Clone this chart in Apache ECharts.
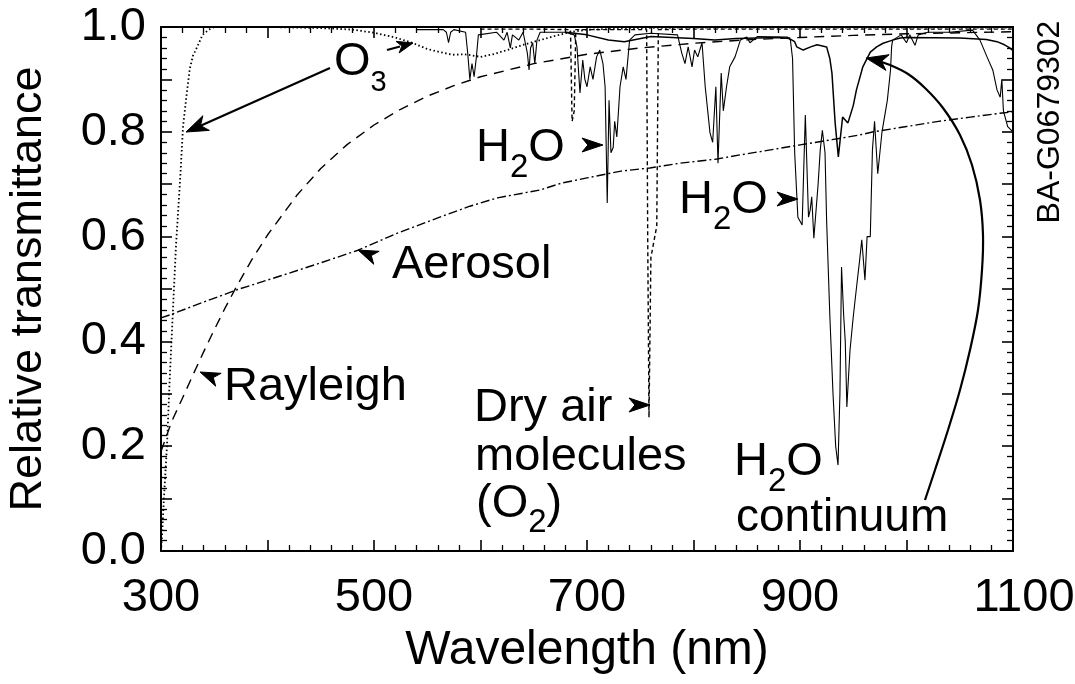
<!DOCTYPE html>
<html>
<head>
<meta charset="utf-8">
<script src="https://cdn.jsdelivr.net/npm/echarts@6/dist/echarts.min.js"></script>
<style>
  html, body { margin: 0; padding: 0; background: #fff; }
  #chart { width: 1075px; height: 684px; }
</style>
</head>
<body>
<div id="chart"></div>
<script>
// Relative transmittance of the atmosphere by component, 300–1100 nm.

// Ozone (UV cutoff + Chappuis band)
const o3Wavelength = [300, 301, 303, 305.6, 308, 311, 314, 318, 320.7, 324, 327, 330, 334, 339, 345, 350,
  400, 450, 480, 500, 520, 537, 550, 562, 574, 585, 600, 612, 625, 640, 656, 670, 684, 700, 750, 800, 900, 1000, 1100];
const o3Transmittance = [0.0, 0.03, 0.11, 0.2, 0.32, 0.45, 0.58, 0.71, 0.81, 0.87, 0.92, 0.945, 0.962, 0.985, 0.995, 1.0,
  1.0, 0.998, 0.995, 0.989, 0.98, 0.969, 0.958, 0.952, 0.947, 0.948, 0.943, 0.948, 0.956, 0.966, 0.975, 0.983, 0.99, 0.995, 0.998, 0.999, 0.999, 0.999, 0.999];

// Rayleigh scattering
const rayleighWavelength = [300, 310, 320, 330, 340, 350, 360, 371, 385, 400, 428, 450, 475, 500, 525, 550, 575, 600,
  650, 700, 750, 800, 850, 900, 950, 1000, 1050, 1100];
const rayleighTransmittance = [0.19, 0.247, 0.291, 0.336, 0.38, 0.422, 0.463, 0.505, 0.555, 0.603, 0.68, 0.73, 0.776, 0.813, 0.843, 0.868, 0.888, 0.905,
  0.93, 0.948, 0.96, 0.969, 0.9755, 0.98, 0.984, 0.987, 0.989, 0.991];

// Aerosol extinction
const aerosolWavelength = [300, 309, 340, 372, 420, 450, 485, 520, 550, 563, 590, 616, 656, 676, 700, 732, 759, 787,
  822, 844, 862, 900, 930, 956, 969, 1000, 1030, 1060, 1090, 1100];
const aerosolTransmittance = [0.445, 0.451, 0.475, 0.499, 0.53, 0.55, 0.574, 0.605, 0.628, 0.638, 0.658, 0.674, 0.689, 0.702, 0.712, 0.725, 0.731, 0.74,
  0.748, 0.756, 0.762, 0.775, 0.785, 0.794, 0.80, 0.81, 0.82, 0.828, 0.836, 0.838];

// Dry air molecules (O2 B and A bands)
const o2Wavelength = [600, 650, 684.5, 686, 688, 689.5, 756, 757, 758.2, 760, 765.5, 767, 800, 900, 1000, 1100];
const o2Transmittance = [0.996, 0.996, 0.995, 0.82, 0.84, 0.995, 0.995, 0.6, 0.255, 0.56, 0.62, 0.995, 0.996, 0.996, 0.996, 0.996];

// Water vapour absorption lines
const h2oWavelength = [540, 565, 568, 570, 572, 575, 586, 588, 590, 592, 594, 596, 598, 615, 622, 625, 628, 630, 636, 640,
  644, 645.6, 647, 649, 651, 653, 656, 680, 688, 690.6, 693.4, 696, 698, 700, 703, 705.6, 709, 712, 715, 717, 719,
  720.7, 722.5, 724.6, 726, 728, 731, 734, 736.6, 740, 745, 760, 785, 789, 792, 795, 798.6, 801, 804, 808, 811,
  815.5, 818, 821, 823, 826, 828, 831, 834, 839, 844, 850, 853, 856, 860, 888, 891, 893, 895, 898, 902, 905, 908,
  909.5, 911, 913, 917, 919, 921, 923.5, 925, 928, 931, 933.5, 935.7, 937.5, 939, 941, 942.5, 944, 945.5, 947, 950,
  953.5, 956, 958, 961, 963, 966, 968, 970, 973, 977, 982, 985, 986, 987, 995, 1000, 1003, 1008, 1011, 1020, 1040,
  1062, 1069, 1075.6, 1081, 1085, 1088, 1089.5, 1091, 1095, 1100];
const h2oTransmittance = [0.995, 0.995, 0.99, 0.97, 0.99, 0.995, 0.99, 0.95, 0.90, 0.93, 0.905, 0.94, 0.985, 0.99, 0.975, 0.99, 0.96, 0.985, 0.975, 0.99,
  0.95, 0.918, 0.96, 0.97, 0.93, 0.975, 0.99, 0.99, 0.985, 0.962, 0.874, 0.937, 0.90, 0.886, 0.924, 0.9, 0.943, 0.956, 0.93, 0.886, 0.664,
  0.86, 0.76, 0.77, 0.82, 0.79, 0.886, 0.924, 0.9, 0.975, 0.985, 0.988, 0.985, 0.95, 0.93, 0.962, 0.924, 0.956, 0.943, 0.97, 0.886,
  0.798, 0.78, 0.886, 0.74, 0.912, 0.84, 0.886, 0.924, 0.943, 0.975, 0.981, 0.97, 0.975, 0.982, 0.981, 0.975, 0.94, 0.76, 0.637, 0.622, 0.832, 0.637,
  0.65, 0.676, 0.597, 0.70, 0.765, 0.803, 0.76, 0.63, 0.45, 0.30, 0.2, 0.164, 0.3, 0.542, 0.45, 0.4, 0.275, 0.33, 0.384, 0.447,
  0.511, 0.555, 0.594, 0.517, 0.60, 0.60, 0.765, 0.82, 0.72, 0.80, 0.86, 0.918, 0.962, 0.975, 0.985, 0.97, 0.985, 0.965, 0.985, 0.99, 0.99,
  0.994, 0.975, 0.943, 0.918, 0.88, 0.866, 0.9, 0.84, 0.81, 0.80];

// Water vapour continuum
const continuumWavelength = [680, 700, 720, 735, 760, 800, 820, 840, 880, 890, 895, 897, 903, 910, 916, 925, 928, 930, 933, 936,
  938, 940, 945, 950, 953, 959, 966, 972, 978, 987, 994, 1000, 1050, 1075, 1085, 1092, 1097, 1100];
const continuumTransmittance = [0.99, 0.985, 0.975, 0.972, 0.982, 0.978, 0.975, 0.978, 0.98, 0.978, 0.972, 0.962, 0.956, 0.962, 0.966, 0.962, 0.94, 0.912, 0.817, 0.752,
  0.79, 0.828, 0.817, 0.85, 0.88, 0.924, 0.952, 0.962, 0.969, 0.975, 0.979, 0.98, 0.979, 0.976, 0.972, 0.966, 0.96, 0.955];

// Axis labels
const xTickLabels = [300, 500, 700, 900, 1100];
const yTickLabels = ['0.0', '0.2', '0.4', '0.6', '0.8', '1.0'];

const FONT = '"Liberation Sans", Arial, Helvetica, sans-serif';
const INK = '#000';

const pairs = (xs, ys) => xs.map((x, i) => [x, ys[i]]);

const measureCtx = document.createElement('canvas').getContext('2d');
function textWidth(str, size) {
  measureCtx.font = size + 'px ' + FONT;
  return measureCtx.measureText(str).width;
}

// Text pieces sharing a baseline; subscripts carry their own size and drop.
function richLabel(x, baseline, parts) {
  const out = [];
  let cx = x;
  parts.forEach(([t, size, drop]) => {
    const b = baseline + (drop || 0);
    out.push({
      type: 'text', x: cx, y: b - 0.31 * size, silent: true,
      style: { text: t, font: size + 'px ' + FONT, fill: INK,
               align: 'left', verticalAlign: 'middle', textAlign: 'left', textVerticalAlign: 'middle' }
    });
    cx += textWidth(t, size);
  });
  return out;
}

// Barbed arrowhead with its tip at (tx, ty), pointing away from (fx, fy).
function arrowHead(tx, ty, fx, fy, len, halfW) {
  const a = Math.atan2(ty - fy, tx - fx);
  const ux = Math.cos(a), uy = Math.sin(a);
  const px = -uy, py = ux;
  const bx = tx - ux * len, by = ty - uy * len;
  const nx = tx - ux * len * 0.72, ny = ty - uy * len * 0.72;
  return {
    type: 'polygon', silent: true,
    shape: { points: [[tx, ty], [bx + px * halfW, by + py * halfW], [nx, ny], [bx - px * halfW, by - py * halfW]] },
    style: { fill: INK, stroke: INK, lineWidth: 1 }
  };
}

function shaft(points, width, smooth) {
  return {
    type: 'polyline', silent: true,
    shape: { points: points, smooth: smooth || 0 },
    style: { stroke: INK, lineWidth: width, fill: null }
  };
}

const continuumCurve = [[925, 500], [935, 470], [948, 430], [960, 390], [970, 350], [978, 310], [982, 270],
  [983, 235], [980, 200], [972, 165], [960, 135], [943, 108], [925, 88], [908, 74], [890, 65], [872, 59]];

const annotations = [].concat(
  richLabel(334, 77, [['O', 47], ['3', 29, 15]]),
  [shaft([[330, 68], [200, 126]], 2.2), arrowHead(186, 132, 330, 68, 22, 8)],
  [shaft([[387, 50], [400, 46.5]], 2.2), arrowHead(413, 43, 387, 50, 16, 6)],
  richLabel(476, 163, [['H', 47], ['2', 33, 15], ['O', 47]]),
  [arrowHead(603, 145, 583, 145, 21, 7)],
  richLabel(679, 215, [['H', 47], ['2', 33, 15], ['O', 47]]),
  [arrowHead(798, 199, 778, 199, 21, 7)],
  richLabel(392, 280, [['Aerosol', 47]]),
  [arrowHead(358, 250, 377, 258, 20, 7)],
  richLabel(224, 402, [['Rayleigh', 47]]),
  [arrowHead(200, 372, 219, 380, 20, 7)],
  richLabel(474, 423, [['Dry air', 47]]),
  [arrowHead(650, 405, 629, 405, 21, 7)],
  richLabel(475, 472, [['molecules', 47]]),
  richLabel(476, 519, [['(O', 47], ['2', 33, 14], [')', 47]]),
  richLabel(734, 477, [['H', 47], ['2', 33, 15], ['O', 47]]),
  richLabel(736, 533, [['continuum', 46]]),
  [shaft(continuumCurve, 2.2, 0.35), arrowHead(866, 58, 885, 62, 22, 8)],
  [{
    type: 'text', x: 1050, y: 122, rotation: Math.PI / 2, silent: true,
    style: { text: 'BA-G0679302', font: '32px ' + FONT, fill: INK,
             align: 'center', verticalAlign: 'middle', textAlign: 'center', textVerticalAlign: 'middle' }
  }]
);

const frameLine = { show: true, onZero: false, lineStyle: { color: INK, width: 2 } };
const majorTick = { show: true, inside: true, length: 11, lineStyle: { color: INK, width: 1.6 } };
const minorTick = { show: true, splitNumber: 5, length: 6, lineStyle: { color: INK, width: 1.3 } };
const labelStyle = { color: INK, fontSize: 47, fontFamily: FONT };

function xAxis(position, showLabels) {
  return {
    type: 'value', position: position, min: 300, max: 1100, interval: 100,
    axisLine: frameLine, axisTick: majorTick, minorTick: minorTick,
    splitLine: { show: false }, minorSplitLine: { show: false },
    axisLabel: Object.assign({ show: showLabels, margin: 24, hideOverlap: false,
      formatter: v => {
        const n = Math.round(v);
        if (!xTickLabels.includes(n)) return '';
        // the last label sits a little right of its tick
        return n === 1100 ? '{last|' + n + '}' : String(n);
      },
      rich: { last: { padding: [0, 0, 0, 22], color: INK, fontSize: 47, fontFamily: FONT } } }, labelStyle)
  };
}
function yAxis(position, showLabels) {
  return {
    type: 'value', position: position, min: 0, max: 1, interval: 0.1,
    axisLine: frameLine, axisTick: majorTick, minorTick: minorTick,
    splitLine: { show: false }, minorSplitLine: { show: false },
    axisLabel: Object.assign({ show: showLabels, margin: 15,
      formatter: v => { const s = (Math.round(v * 10) / 10).toFixed(1); return yTickLabels.includes(s) ? s : ''; } }, labelStyle)
  };
}

const bottomAxis = Object.assign(xAxis('bottom', true), {
  name: 'Wavelength (nm)', nameLocation: 'middle', nameGap: 64,
  nameTextStyle: { color: INK, fontSize: 48, fontFamily: FONT }
});
const leftAxis = Object.assign(yAxis('left', true), {
  name: 'Relative transmittance', nameLocation: 'middle', nameGap: 110, nameRotate: 90,
  nameTextStyle: { color: INK, fontSize: 45, fontFamily: FONT }
});

function line(name, xs, ys, width, type) {
  return {
    name: name, type: 'line', data: pairs(xs, ys), symbol: 'none', showSymbol: false,
    silent: true, clip: true, smooth: false,
    lineStyle: { color: INK, width: width, type: type, cap: 'butt' }
  };
}

const chart = echarts.init(document.getElementById('chart'), null, { renderer: 'canvas' });
chart.setOption({
  backgroundColor: '#fff',
  animation: false,
  grid: { left: 161, right: 62, top: 27, bottom: 133, containLabel: false, outerBoundsMode: 'none' },
  xAxis: [bottomAxis, xAxis('top', false)],
  yAxis: [leftAxis, yAxis('right', false)],
  series: [
    line('Aerosol', aerosolWavelength, aerosolTransmittance, 1.4, [9, 3, 2, 3]),
    line('Rayleigh', rayleighWavelength, rayleighTransmittance, 1.4, [10, 7]),
    line('Dry air molecules (O2)', o2Wavelength, o2Transmittance, 1.4, [4, 3]),
    line('O3', o3Wavelength, o3Transmittance, 1.8, [1.5, 2.5]),
    line('H2O continuum', continuumWavelength, continuumTransmittance, 1.5, 'solid'),
    line('H2O', h2oWavelength, h2oTransmittance, 1.1, 'solid')
  ],
  graphic: { elements: annotations }
});
</script>
</body>
</html>
